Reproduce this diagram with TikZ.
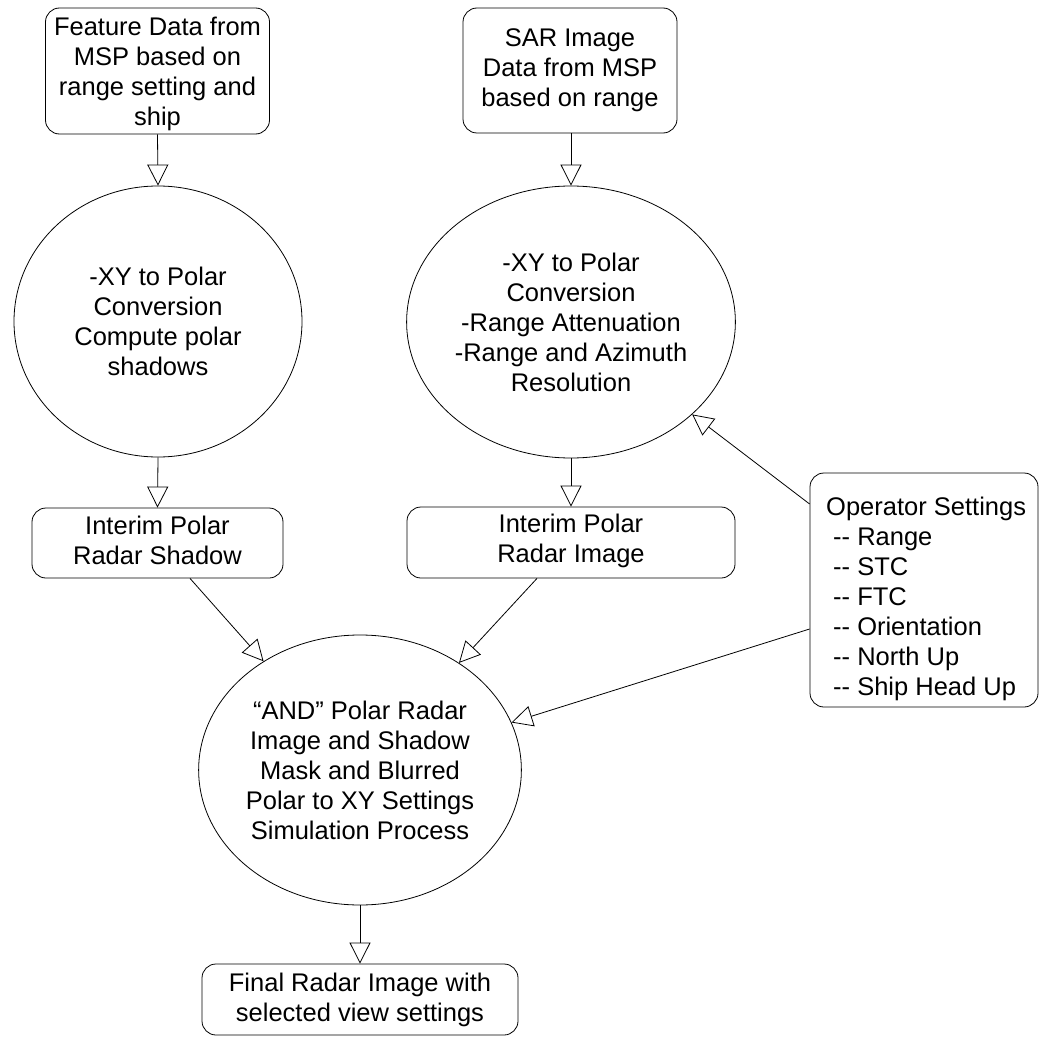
\documentclass[tikz,border=0pt]{standalone}
\usepackage{fontspec}
\setmainfont{Liberation Sans}
\usetikzlibrary{shapes.geometric,arrows.meta}
\begin{document}
\begin{tikzpicture}[x=1pt,y=-1pt,
  every node/.style={font=\fontsize{25.5}{30}\selectfont, inner sep=0pt, align=center},
  rbox/.style={draw, rounded corners=14pt, line width=0.8pt},
  proc/.style={draw, ellipse, line width=0.8pt},
  flow/.style={line width=0.8pt, -{Triangle[open, length=21pt, width=21pt]}}]
\useasboundingbox (0,0) rectangle (1042,1038);
% boxes
\node[rbox, minimum width=224pt, minimum height=126pt] (feat) at (157.5,71) {};
\node (feattext) at (157.5,74) {Feature Data from\\MSP based on\\range setting and\\ship};
\node[rbox, minimum width=214pt, minimum height=125pt] (sar) at (570,70.5) {SAR Image\\Data from MSP\\based on range};
\node[proc, minimum width=288pt, minimum height=271pt] (c1) at (158,321.5) {-XY to Polar\\Conversion\\Compute polar\\shadows};
\node[proc, minimum width=288pt, minimum height=272pt] (c2) at (571,322) {-XY to Polar\\Conversion\\-Range Attenuation\\-Range and Azimuth\\Resolution};
\node[rbox, minimum width=251pt, minimum height=70pt] (shadow) at (157.5,543) {};
\node (shadowtext) at (157.5,540.5) {Interim Polar\\Radar Shadow};
\node[rbox, minimum width=328pt, minimum height=71pt] (img) at (571,542.5) {};
\node (imgtext) at (571,540.5) {Interim Polar\\Radar Image};
\node[rbox, minimum width=228pt, minimum height=234pt] (op) at (924,590) {};
\node[anchor=north west, align=left] (optext) at (826,497) {Operator Settings\\\hspace*{7pt}-{}- Range\\\hspace*{7pt}-{}- STC\\\hspace*{7pt}-{}- FTC\\\hspace*{7pt}-{}- Orientation\\\hspace*{7pt}-{}- North Up\\\hspace*{7pt}-{}- Ship Head Up};
\node[proc, minimum width=290pt, minimum height=270pt] (c3) at (360,770) {``AND'' Polar Radar\\Image and Shadow\\Mask and Blurred\\Polar to XY Settings\\Simulation Process};
\node[rbox, minimum width=316pt, minimum height=71pt] (final) at (360,999.5) {Final Radar Image with\\selected view settings};
% connector start points
\coordinate (s1) at ([xshift=32.5pt]shadow.south);
\coordinate (s2) at ([xshift=-34pt]img.south);
\coordinate (o1) at ([yshift=86pt]op.west);
\coordinate (o2) at ([yshift=-39pt]op.west);
% connectors
\draw[flow] (feat.south) -- (c1.north);
\draw[flow] (sar.south -| c2.north) -- (c2.north);
\draw[flow] (c1.south) -- (shadow.north);
\draw[flow] (c2.south) -- (img.north);
\draw[flow] (s1) -- (c3);
\draw[flow] (s2) -- (c3);
\draw[flow] (o1) -- (c2);
\draw[flow] (o2) -- (c3);
\draw[flow] (c3.south) -- (final.north);
\end{tikzpicture}
\end{document}
